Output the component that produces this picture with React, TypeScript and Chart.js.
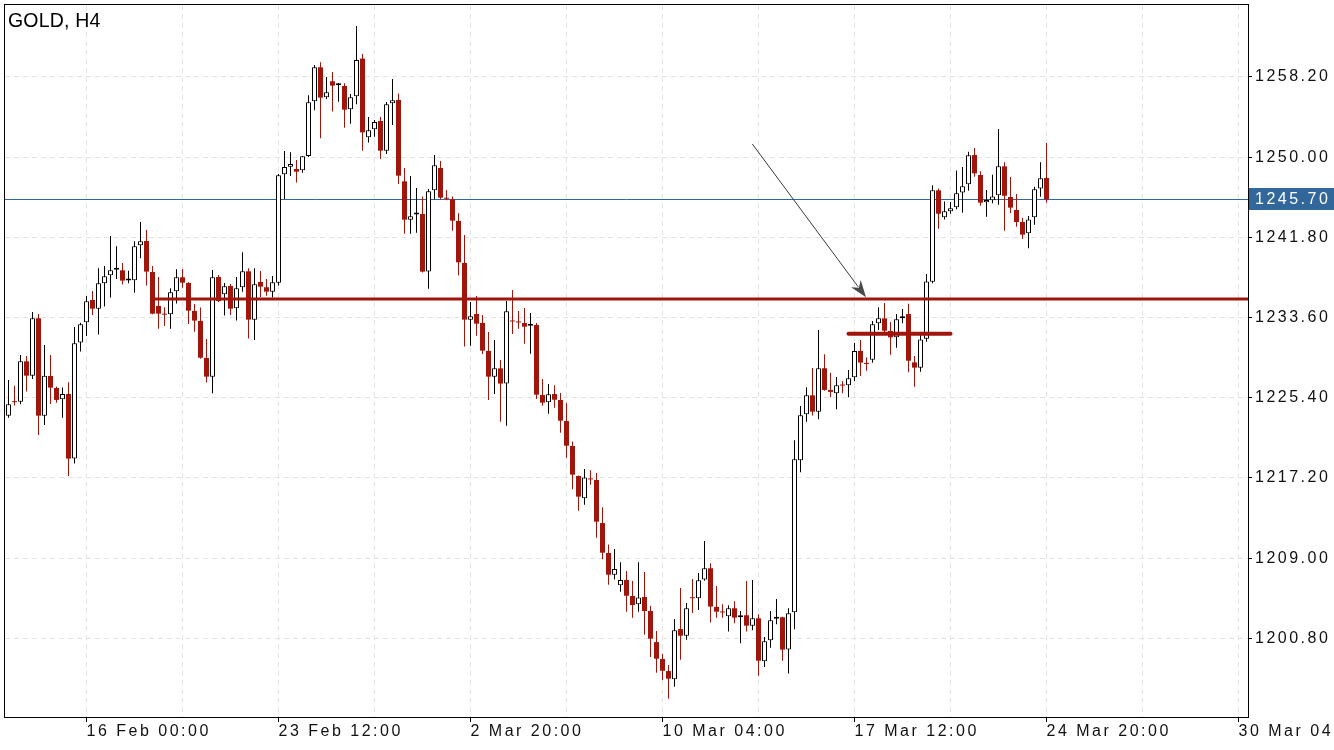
import React, { useEffect, useRef } from "react";
import { Chart, registerables } from "chart.js";

Chart.register(...registerables);

// ---- Data (GOLD, H4) ----
const opens = [
  1223.57, 1225.05, 1225.0, 1229.13, 1227.66, 1233.53, 1223.57, 1227.63, 1226.4, 1225.24,
  1225.79, 1219.18, 1231.04, 1233.12, 1235.4, 1234.51, 1237.1, 1237.92, 1238.5, 1238.43,
  1237.4, 1237.41, 1240.99, 1241.43, 1238.26, 1234.79, 1234.0, 1233.93, 1236.29, 1237.72,
  1237.14, 1234.28, 1233.26, 1229.47, 1227.56, 1237.75, 1235.98, 1236.83, 1234.55, 1236.7,
  1238.33, 1233.39, 1237.24, 1236.7, 1236.25, 1237.17, 1248.25, 1249.03, 1248.79, 1248.66,
  1250.12, 1255.71, 1259.19, 1256.12, 1257.76, 1257.35, 1257.28, 1254.9, 1256.22, 1260.08,
  1252.03, 1252.85, 1253.7, 1250.67, 1255.51, 1255.85, 1247.53, 1243.61, 1244.14, 1244.19,
  1238.3, 1246.61, 1248.9, 1245.82, 1245.69, 1243.48, 1239.18, 1233.39, 1233.97, 1233.05,
  1230.19, 1227.56, 1228.41, 1226.85, 1233.25, 1233.15, 1233.04, 1232.76, 1232.84, 1225.68,
  1224.93, 1225.78, 1225.17, 1223.02, 1220.47, 1217.4, 1215.12, 1217.13, 1216.99, 1212.59,
  1209.53, 1207.31, 1206.22, 1206.77, 1205.13, 1204.28, 1205.03, 1203.6, 1200.42, 1198.69,
  1197.46, 1196.61, 1201.75, 1201.07, 1204.95, 1204.9, 1206.81, 1207.97, 1204.02, 1203.5,
  1203.06, 1203.88, 1202.96, 1203.16, 1202.1, 1202.85, 1198.46, 1200.6, 1202.8, 1202.96,
  1199.65, 1203.47, 1219.01, 1223.71, 1225.65, 1223.98, 1228.42, 1226.2, 1225.86, 1226.7,
  1226.68, 1227.5, 1230.19, 1228.92, 1229.29, 1233.01, 1233.52, 1232.23, 1231.58, 1233.53,
  1233.96, 1229.02, 1228.48, 1231.44, 1237.27, 1246.61, 1243.85, 1244.46, 1244.87, 1246.4,
  1247.22, 1250.22, 1248.18, 1245.38, 1245.59, 1246.1, 1249.06, 1245.93, 1244.6, 1243.37,
  1242.21, 1243.85, 1246.81, 1247.87,
];

const highs = [
  1227.22, 1226.64, 1229.78, 1229.67, 1234.17, 1233.97, 1230.8, 1229.78, 1226.54, 1226.44,
  1226.98, 1232.64, 1233.08, 1235.81, 1236.32, 1238.64, 1238.88, 1241.94, 1240.89, 1239.18,
  1238.4, 1241.4, 1243.38, 1242.56, 1238.88, 1237.75, 1234.65, 1236.59, 1238.54, 1238.57,
  1237.2, 1234.99, 1234.62, 1231.41, 1238.47, 1237.96, 1237.14, 1237.03, 1237.75, 1240.27,
  1238.64, 1238.64, 1238.37, 1237.55, 1237.85, 1248.28, 1250.64, 1250.5, 1249.72, 1250.1,
  1256.33, 1259.43, 1259.7, 1258.2, 1258.71, 1257.59, 1257.55, 1256.46, 1263.42, 1260.55,
  1254.11, 1253.81, 1254.11, 1255.65, 1258.0, 1256.5, 1248.9, 1248.08, 1246.85, 1245.97,
  1246.75, 1250.23, 1249.61, 1246.65, 1245.97, 1244.26, 1242.05, 1235.2, 1235.81, 1233.87,
  1232.13, 1231.31, 1229.27, 1235.3, 1236.42, 1234.28, 1234.58, 1234.07, 1233.04, 1227.32,
  1226.81, 1226.67, 1225.89, 1224.86, 1220.94, 1217.45, 1218.11, 1217.98, 1217.71, 1214.2,
  1210.41, 1209.93, 1208.57, 1207.69, 1206.66, 1208.57, 1207.58, 1204.11, 1201.55, 1199.2,
  1198.07, 1202.78, 1205.95, 1204.41, 1206.87, 1207.49, 1210.76, 1208.48, 1206.16, 1204.28,
  1204.19, 1204.59, 1203.6, 1206.67, 1206.77, 1203.26, 1200.94, 1203.6, 1204.83, 1203.0,
  1203.88, 1221.05, 1224.56, 1226.47, 1228.45, 1232.34, 1229.85, 1227.97, 1227.53, 1227.09,
  1228.25, 1231.01, 1231.31, 1229.53, 1233.25, 1234.65, 1235.09, 1233.15, 1233.96, 1234.47,
  1235.02, 1229.67, 1231.95, 1238.05, 1247.12, 1246.81, 1245.48, 1245.42, 1248.65, 1248.99,
  1250.56, 1250.94, 1248.55, 1246.64, 1248.21, 1252.88, 1249.47, 1247.97, 1246.23, 1243.81,
  1243.98, 1246.98, 1249.47, 1251.45,
];

const lows = [
  1223.37, 1224.6, 1224.73, 1226.03, 1227.32, 1221.6, 1222.62, 1224.77, 1224.9, 1223.37,
  1217.4, 1218.67, 1230.12, 1231.72, 1233.87, 1231.86, 1234.72, 1235.64, 1237.55, 1236.97,
  1237.1, 1236.15, 1239.66, 1236.87, 1233.93, 1232.47, 1232.74, 1232.47, 1235.03, 1236.66,
  1232.95, 1232.16, 1229.4, 1226.95, 1225.86, 1235.2, 1233.8, 1233.87, 1233.29, 1236.25,
  1231.45, 1231.31, 1235.71, 1235.84, 1235.64, 1236.87, 1245.73, 1248.08, 1247.4, 1248.42,
  1250.02, 1254.79, 1251.93, 1255.95, 1254.66, 1255.68, 1253.02, 1253.43, 1255.41, 1250.67,
  1251.49, 1252.1, 1249.82, 1250.33, 1253.29, 1247.26, 1242.18, 1242.18, 1242.28, 1238.2,
  1236.56, 1245.69, 1245.69, 1245.6, 1242.49, 1237.89, 1230.63, 1230.73, 1231.75, 1229.88,
  1225.18, 1225.79, 1222.96, 1222.55, 1231.92, 1232.47, 1230.92, 1229.91, 1225.27, 1224.59,
  1223.77, 1224.39, 1221.83, 1219.27, 1216.04, 1213.85, 1214.47, 1216.51, 1211.09, 1208.88,
  1206.29, 1206.83, 1205.57, 1203.53, 1202.91, 1203.53, 1201.18, 1198.89, 1197.29, 1196.54,
  1194.63, 1195.86, 1198.62, 1200.66, 1203.39, 1203.71, 1206.7, 1202.41, 1202.92, 1202.92,
  1201.49, 1202.34, 1200.3, 1201.49, 1201.63, 1196.99, 1197.88, 1199.85, 1202.24, 1198.52,
  1197.2, 1201.73, 1217.78, 1222.96, 1223.58, 1223.2, 1226.13, 1225.45, 1224.22, 1225.86,
  1225.45, 1227.09, 1227.63, 1228.17, 1228.99, 1232.33, 1232.12, 1229.81, 1230.52, 1233.01,
  1228.0, 1226.53, 1228.07, 1231.13, 1237.1, 1242.69, 1243.64, 1244.22, 1244.67, 1244.32,
  1246.57, 1248.01, 1245.04, 1243.92, 1245.28, 1245.14, 1242.48, 1244.26, 1242.89, 1241.63,
  1240.68, 1243.1, 1245.96, 1245.35,
];

const closes = [
  1224.73, 1224.95, 1229.13, 1227.66, 1233.53, 1223.57, 1227.66, 1226.44, 1225.18, 1225.79,
  1219.18, 1230.97, 1232.91, 1235.26, 1234.51, 1237.1, 1237.82, 1238.43, 1238.55, 1237.38,
  1237.42, 1240.89, 1241.4, 1238.3, 1234.0, 1234.0, 1233.9, 1236.18, 1237.72, 1237.17,
  1234.31, 1233.29, 1229.5, 1227.56, 1237.72, 1235.3, 1236.8, 1234.51, 1236.59, 1238.33,
  1233.39, 1237.0, 1236.76, 1236.25, 1237.21, 1248.15, 1249.0, 1249.31, 1248.52, 1250.09,
  1255.61, 1259.19, 1256.09, 1256.63, 1257.32, 1257.37, 1254.86, 1256.12, 1259.94, 1252.54,
  1252.75, 1253.6, 1250.67, 1255.41, 1255.82, 1248.11, 1243.61, 1243.96, 1244.18, 1238.3,
  1246.51, 1249.17, 1245.86, 1245.75, 1243.51, 1239.25, 1233.39, 1233.73, 1232.98, 1230.22,
  1227.56, 1228.41, 1226.85, 1234.24, 1233.2, 1233.1, 1232.67, 1232.78, 1225.72, 1224.9,
  1225.75, 1225.2, 1223.06, 1220.5, 1217.54, 1215.29, 1217.26, 1217.05, 1212.73, 1209.56,
  1207.31, 1207.89, 1206.77, 1205.16, 1204.21, 1204.99, 1203.6, 1200.77, 1198.72, 1197.49,
  1196.68, 1201.62, 1201.07, 1203.87, 1204.9, 1206.74, 1207.97, 1204.05, 1203.53, 1203.45,
  1203.88, 1202.92, 1203.16, 1202.1, 1202.85, 1198.52, 1200.5, 1202.65, 1202.84, 1199.65,
  1203.36, 1219.11, 1223.61, 1225.65, 1223.98, 1228.42, 1226.2, 1226.0, 1226.68, 1226.65,
  1227.39, 1230.19, 1229.0, 1228.86, 1232.91, 1233.52, 1232.26, 1231.58, 1233.42, 1233.57,
  1229.19, 1228.48, 1231.37, 1237.3, 1246.61, 1244.22, 1244.46, 1244.77, 1246.3, 1247.02,
  1250.19, 1248.35, 1245.35, 1245.62, 1245.99, 1249.06, 1246.06, 1244.84, 1243.37, 1242.08,
  1243.64, 1246.71, 1247.84, 1245.7,
];

// Time-axis labels (bar index -> label)
const xTickIndices = [13, 45, 77, 109, 141, 173, 205];
const xTickLabels = [
  "16 Feb 00:00",
  "23 Feb 12:00",
  "2 Mar 20:00",
  "10 Mar 04:00",
  "17 Mar 12:00",
  "24 Mar 20:00",
  "30 Mar 04:00",
];
const xGridStep = 16;

// Price-axis ticks
const yTickValues = [1200.8, 1209.0, 1217.2, 1225.4, 1233.6, 1241.8, 1250.0, 1258.2];
const yMin = 1192.76;
const yMax = 1265.56;
const xMin = -0.5833;
const xMax = 206.5833;

const chartTitle = "GOLD, H4";

// Drawn objects (in data space: bar index / price)
const supportLevel = { from: 24, price: 1235.5 };
const rangeLevel = { from: 140, to: 157, price: 1231.95 };
const arrowFrom = { x: 123.97, y: 1251.35 };
const arrowTo = { x: 142.92, y: 1235.67 };

const RED = "#a0160c";
const GRID = "#e3e3e3";
const PRICE_BLUE = "#31679b";
const FONT = '"Liberation Sans", Arial, Helvetica, sans-serif';

export default function App() {
  const ref = useRef<HTMLCanvasElement>(null);

  useEffect(() => {
    document.body.style.margin = "0";
    const canvas = ref.current;
    if (!canvas) return;

    const idx = opens.map((_, i) => i);
    const bull = idx.filter((i) => closes[i] >= opens[i]);
    const bear = idx.filter((i) => closes[i] < opens[i]);
    const lastClose = closes[closes.length - 1];

    const overlay = {
      id: "overlay",
      beforeDraw(chart: any) {
        (chart.ctx as any).letterSpacing = "2.5px";
      },
      beforeDatasetsDraw(chart: any) {
        const { ctx, chartArea: a, scales } = chart;
        const py = Math.round(scales.y.getPixelForValue(lastClose)) + 0.5;
        ctx.save();
        ctx.strokeStyle = PRICE_BLUE;
        ctx.lineWidth = 1;
        ctx.beginPath();
        ctx.moveTo(a.left, py);
        ctx.lineTo(a.right, py);
        ctx.stroke();
        ctx.restore();
      },
      afterDatasetsDraw(chart: any) {
        const { ctx, chartArea: a, scales } = chart;
        const xs = scales.x;
        const ys = scales.y;
        ctx.save();
        ctx.beginPath();
        ctx.rect(a.left, a.top, a.right - a.left, a.bottom - a.top);
        ctx.clip();
        // support level
        ctx.strokeStyle = RED;
        ctx.lineWidth = 3;
        ctx.lineCap = "butt";
        let py = ys.getPixelForValue(supportLevel.price);
        ctx.beginPath();
        ctx.moveTo(xs.getPixelForValue(supportLevel.from), py);
        ctx.lineTo(a.right, py);
        ctx.stroke();
        // range level
        ctx.lineWidth = 4;
        ctx.lineCap = "round";
        py = ys.getPixelForValue(rangeLevel.price);
        ctx.beginPath();
        ctx.moveTo(xs.getPixelForValue(rangeLevel.from), py);
        ctx.lineTo(xs.getPixelForValue(rangeLevel.to), py);
        ctx.stroke();
        // arrow
        const x1 = xs.getPixelForValue(arrowFrom.x);
        const y1 = ys.getPixelForValue(arrowFrom.y);
        const x2 = xs.getPixelForValue(arrowTo.x);
        const y2 = ys.getPixelForValue(arrowTo.y);
        const ang = Math.atan2(y2 - y1, x2 - x1);
        const L = 17;
        const W = 6;
        const cx = Math.cos(ang);
        const sy = Math.sin(ang);
        ctx.strokeStyle = "#3a3a3a";
        ctx.lineWidth = 1;
        ctx.lineCap = "butt";
        ctx.beginPath();
        ctx.moveTo(x1, y1);
        ctx.lineTo(x2 - cx * (L - 4), y2 - sy * (L - 4));
        ctx.stroke();
        ctx.fillStyle = "#4a4a4a";
        const bx = x2 - cx * L;
        const by = y2 - sy * L;
        const nx = x2 - cx * (L - 5);
        const ny = y2 - sy * (L - 5);
        ctx.beginPath();
        ctx.moveTo(x2, y2);
        ctx.lineTo(bx - sy * W, by + cx * W);
        ctx.lineTo(nx, ny);
        ctx.lineTo(bx + sy * W, by - cx * W);
        ctx.closePath();
        ctx.fill();
        ctx.restore();
      },
      afterDraw(chart: any) {
        const { ctx, chartArea: a, scales, width } = chart;
        ctx.save();
        // frame
        ctx.strokeStyle = "#000";
        ctx.lineWidth = 1;
        ctx.strokeRect(a.left - 0.5, a.top - 0.5, a.right - a.left + 1, a.bottom - a.top + 1);
        // current price box
        const py = Math.round(scales.y.getPixelForValue(lastClose));
        ctx.fillStyle = PRICE_BLUE;
        ctx.fillRect(a.right + 1, py - 11, width - a.right - 1, 22);
        ctx.fillStyle = "#ffffff";
        ctx.font = `16px ${FONT}`;
        (ctx as any).letterSpacing = "2.5px";
        ctx.textAlign = "left";
        ctx.textBaseline = "middle";
        ctx.fillText(lastClose.toFixed(2), a.right + 7, py + 1);
        // title
        (ctx as any).letterSpacing = "0.2px";
        ctx.fillStyle = "#000";
        ctx.font = `19.5px ${FONT}`;
        ctx.textBaseline = "alphabetic";
        ctx.fillText(chartTitle, 8, 27);
        ctx.restore();
      },
    };

    const common = { grouped: false, inflateAmount: 0, borderSkipped: false as any };

    const chart = new Chart(canvas, {
      type: "bar",
      data: {
        datasets: [
          {
            ...common,
            label: "bull bodies",
            data: bull.map((i) => ({ x: i, y: [opens[i], closes[i]] })) as any,
            backgroundColor: "#ffffff",
            borderColor: "#000000",
            borderWidth: 1,
            barThickness: 5,
            minBarLength: 2,
            order: 0,
          },
          {
            ...common,
            label: "bear bodies",
            data: bear.map((i) => ({ x: i, y: [opens[i], closes[i]] })) as any,
            backgroundColor: RED,
            borderWidth: 0,
            barThickness: 5,
            minBarLength: 1,
            order: 0,
          },
          {
            ...common,
            label: "bull wicks",
            data: bull.map((i) => ({ x: i, y: [lows[i], highs[i]] })) as any,
            backgroundColor: "#000000",
            borderWidth: 0,
            barThickness: 1,
            minBarLength: 1,
            order: 1,
          },
          {
            ...common,
            label: "bear wicks",
            data: bear.map((i) => ({ x: i, y: [lows[i], highs[i]] })) as any,
            backgroundColor: RED,
            borderWidth: 0,
            barThickness: 1,
            minBarLength: 1,
            order: 1,
          },
        ],
      },
      options: {
        responsive: false,
        animation: false,
        events: [],
        layout: { padding: { left: 5, top: 5, right: 0, bottom: 0 } },
        plugins: { legend: { display: false }, tooltip: { enabled: false }, title: { display: false } },
        scales: {
          x: {
            type: "linear",
            min: xMin,
            max: xMax,
            offset: false,
            bounds: "data",
            afterBuildTicks: (s: any) => {
              const vals: number[] = [];
              xTickIndices.forEach((v) => {
                vals.push(v);
                if (v + xGridStep <= s.max) vals.push(v + xGridStep);
              });
              s.ticks = vals.sort((p, q) => p - q).map((v) => ({ value: v }));
            },
            afterFit: (s: any) => {
              s.height = 33;
              s.paddingLeft = 0;
              s.paddingRight = 0;
            },
            ticks: {
              autoSkip: false,
              maxRotation: 0,
              minRotation: 0,
              align: "start",
              padding: 0,
              color: "#111",
              font: { family: FONT, size: 16 },
              callback: (v: any) => {
                const k = xTickIndices.indexOf(Number(v));
                return k >= 0 ? xTickLabels[k] : "";
              },
            },
            grid: {
              offset: false,
              color: GRID,
              lineWidth: 1,
              tickLength: 5,
              tickColor: (c: any) =>
                c.tick && xTickIndices.includes(c.tick.value) ? "#000" : "rgba(0,0,0,0)",
            },
            border: { display: false, dash: [5, 4] },
          } as any,
          y: {
            type: "linear",
            position: "right",
            min: yMin,
            max: yMax,
            bounds: "data",
            afterBuildTicks: (s: any) => {
              s.ticks = yTickValues.map((v) => ({ value: v }));
            },
            afterFit: (s: any) => {
              s.width = 86;
              s.paddingTop = 0;
              s.paddingBottom = 0;
            },
            ticks: {
              autoSkip: false,
              padding: 3,
              color: "#111",
              font: { family: FONT, size: 16 },
              callback: (v: any) => Number(v).toFixed(2),
            },
            grid: { color: GRID, lineWidth: 1, tickLength: 4, tickColor: "#000" },
            border: { display: false, dash: [5, 4] },
          } as any,
        },
      },
      plugins: [overlay],
    } as any);

    return () => chart.destroy();
  }, []);

  return (
    <div style={{ width: 1334, height: 750, background: "#fff" }}>
      <canvas ref={ref} width={1334} height={750} style={{ display: "block" }} />
    </div>
  );
}
